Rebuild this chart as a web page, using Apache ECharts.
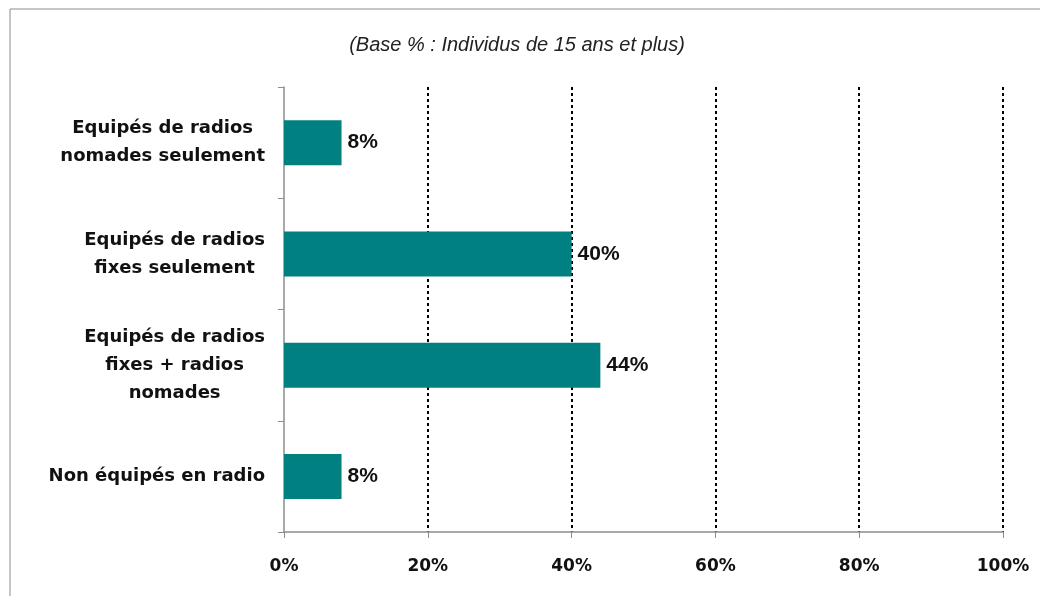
<!DOCTYPE html>
<html>
<head>
<meta charset="utf-8">
<script src="https://cdn.jsdelivr.net/npm/echarts@6/dist/echarts.min.js"></script>
<style>
  html, body { margin: 0; padding: 0; background: #fff; }
  #chart { width: 1040px; height: 596px; }
</style>
</head>
<body>
<div id="chart"></div>
<script>
// categories from top to bottom
const categories = [
  'Equipés de radios\nnomades seulement',
  'Equipés de radios\nfixes seulement',
  'Equipés de radios\nfixes + radios\nnomades',
  'Non équipés en radio'
]
const values = [8, 40, 44, 8]
const xTicks = [0, 20, 40, 60, 80, 100]
const subtitle = '(Base % : Individus de 15 ans et plus)'

const chart = echarts.init(document.getElementById('chart'))

const option = {
  animation: false,
  backgroundColor: '#fff',
  graphic: [
    {
      type: 'rect',
      shape: { x: 10, y: 9, width: 1100, height: 700 },
      style: { fill: 'none', stroke: '#8c8c8c', lineWidth: 1 },
      silent: true
    }
  ],
  title: {
    text: subtitle,
    left: 512,
    textAlign: 'center',
    top: 30,
    textStyle: {
      fontFamily: 'Liberation Sans',
      fontStyle: 'italic',
      fontWeight: 'normal',
      fontSize: 20,
      color: '#222'
    }
  },
  grid: {
    left: 284,
    right: 37,
    top: 87,
    bottom: 64
  },
  xAxis: {
    type: 'value',
    min: xTicks[0],
    max: xTicks[xTicks.length - 1],
    interval: 20,
    axisLine: { show: true, lineStyle: { color: '#8c8c8c', width: 1.5 } },
    axisTick: { show: true, length: 6, lineStyle: { color: '#8c8c8c' } },
    axisLabel: {
      formatter: '{value}%',
      margin: 26,
      fontFamily: 'DejaVu Sans',
      fontWeight: 'bold',
      fontSize: 17,
      color: '#111'
    },
    splitLine: {
      show: true,
      lineStyle: {
        // no dotted line on 0, the y axis is there
        color: ['rgba(0,0,0,0)', '#000', '#000', '#000', '#000', '#000'],
        type: [3, 3],
        width: 2
      }
    }
  },
  yAxis: {
    type: 'category',
    inverse: true,
    data: categories,
    axisLine: { show: true, lineStyle: { color: '#8c8c8c', width: 1.5 } },
    axisTick: { show: true, length: 6, lineStyle: { color: '#8c8c8c' } },
    axisLabel: {
      margin: 19,
      align: 'right',
      lineHeight: 28,
      formatter: (v) => v.split('\n').map((l) => '{c|' + l + '}').join('\n'),
      rich: {
        c: {
          align: 'center',
          fontFamily: 'DejaVu Sans',
          fontWeight: 'bold',
          fontSize: 18,
          lineHeight: 28,
          color: '#111'
        }
      }
    }
  },
  series: [
    {
      type: 'bar',
      data: values,
      barWidth: 45,
      itemStyle: { color: '#008080' },
      label: {
        show: true,
        position: 'right',
        distance: 6,
        formatter: '{c}%',
        fontFamily: 'Liberation Sans',
        fontWeight: 'bold',
        fontSize: 21,
        color: '#111'
      }
    }
  ]
}

chart.setOption(option)
</script>
</body>
</html>
